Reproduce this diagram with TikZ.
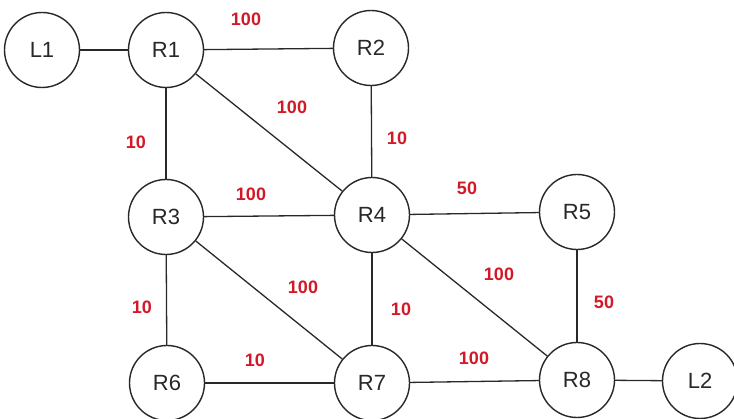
\documentclass[tikz,border=0pt]{standalone}
\usepackage{fontspec}
\setmainfont{Liberation Sans}
\definecolor{wred}{RGB}{210,25,40}
\definecolor{ink}{RGB}{40,40,40}
\begin{document}
\begin{tikzpicture}[x=1pt,y=-1pt,
  router/.style={circle,draw=ink,line width=1.4pt,minimum size=75pt,inner sep=0pt,fill=white,text=ink,font=\fontsize{22}{24}\selectfont},
  link/.style={draw=ink,line width=1.3pt},
  wt/.style={text=wred,font=\bfseries\fontsize{18}{20}\selectfont,inner sep=0pt}]
\useasboundingbox (0,0) rectangle (734,419);
\node[router] (L1) at (42,50) {L1};
\node[router] (R1) at (166,50) {R1};
\node[router] (R2) at (371,48) {R2};
\node[router] (R3) at (166,217) {R3};
\node[router] (R4) at (372,215) {R4};
\node[router] (R5) at (577,212) {R5};
\node[router] (R6) at (167,383) {R6};
\node[router] (R7) at (372,383) {R7};
\node[router] (R8) at (577,380) {R8};
\node[router] (L2) at (700,381) {L2};
\draw[link] (L1) -- (R1);
\draw[link] (R1) -- (R2);
\draw[link] (R1) -- (R4);
\draw[link] (R1) -- (R3);
\draw[link] (R2) -- (R4);
\draw[link] (R3) -- (R4);
\draw[link] (R4) -- (R5);
\draw[link] (R3) -- (R7);
\draw[link] (R3) -- (R6);
\draw[link] (R4) -- (R7);
\draw[link] (R4) -- (R8);
\draw[link] (R5) -- (R8);
\draw[link] (R6) -- (R7);
\draw[link] (R7) -- (R8);
\draw[link] (R8) -- (L2);
\node[wt] (w12) at (246,19) {100};
\node[wt] (w14) at (292,107) {100};
\node[wt] (w13) at (136,142) {10};
\node[wt] (w24) at (397,138) {10};
\node[wt] (w34) at (251,194) {100};
\node[wt] (w45) at (467,188) {50};
\node[wt] (w37) at (303,287) {100};
\node[wt] (w36) at (142,307) {10};
\node[wt] (w47) at (401,309) {10};
\node[wt] (w48) at (499,274) {100};
\node[wt] (w58) at (604,302) {50};
\node[wt] (w67) at (255,360) {10};
\node[wt] (w78) at (474,358) {100};
\end{tikzpicture}
\end{document}
